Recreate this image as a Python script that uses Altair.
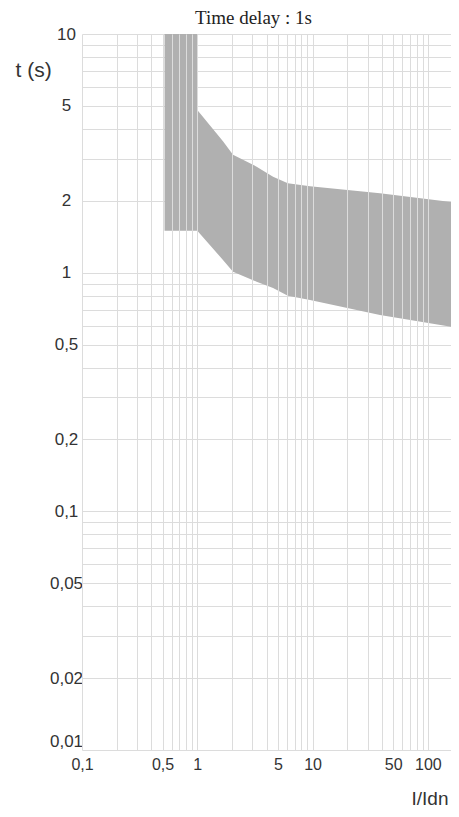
import altair as alt
import pandas as pd

# Tripping band
current_ratio = [0.52, 1.0, 1.0, 1.67, 2.04, 3.27, 4.54, 6.1, 9.5, 38.4, 186]
t_upper = [10, 10, 4.8, 3.55, 3.12, 2.78, 2.52, 2.37, 2.3, 2.15, 1.96]
t_lower = [1.5, 1.5, 1.5, 1.13, 1.01, 0.917, 0.863, 0.80, 0.768, 0.665, 0.586]

# Axis grid / labels
x_grid = [0.1, 0.2, 0.3, 0.4, 0.5, 0.6, 0.7, 0.8, 0.9,
          1, 2, 3, 4, 5, 6, 7, 8, 9,
          10, 20, 30, 40, 50, 60, 70, 80, 90, 100]
x_labels = [0.1, 0.5, 1, 5, 10, 50, 100]
y_grid = [0.01, 0.02, 0.03, 0.04, 0.05, 0.06, 0.07, 0.08, 0.09,
          0.1, 0.2, 0.3, 0.4, 0.5, 0.6, 0.7, 0.8, 0.9,
          1, 2, 3, 4, 5, 6, 7, 8, 9, 10]
y_labels = [0.01, 0.02, 0.05, 0.1, 0.2, 0.5, 1, 2, 5, 10]

df = pd.DataFrame({"I": current_ratio, "up": t_upper, "lo": t_lower})


def label_expr(vals):
    arr = "[" + ",".join(repr(v) for v in vals) + "]"
    return ("indexof(" + arr + ", datum.value) >= 0 ? "
            "replace(format(datum.value, '~g'), '.', ',') : ''")


FONT = "Liberation Sans"

x_axis = alt.Axis(
    values=x_grid, labelExpr=label_expr(x_labels), labelOverlap=False,
    grid=True, gridColor="#dcdcdc", gridWidth=1, domain=False,
    ticks=False, tickSize=0, labelPadding=6, labelBaseline="top",
    labelFont=FONT, labelFontSize=16, labelColor="#333333", labelFlush=False,
    title="I/Idn", titleFont=FONT, titleFontSize=19, titleFontWeight="normal",
    titleColor="#333333", titleX=366, titleY=54, titleAlign="right",
    titleBaseline="alphabetic", titleAngle=0, zindex=1,
)

y_axis = alt.Axis(
    values=y_grid, labelExpr=label_expr(y_labels), labelOverlap=False,
    grid=True, gridColor="#dcdcdc", gridWidth=1, domain=False,
    ticks=False, tickSize=0, labelPadding=16, labelAlign="center",
    labelBaseline=alt.condition("datum.value == 0.01", alt.value("bottom"), alt.value("middle")),
    labelFont=FONT, labelFontSize=17,
    labelColor="#333333", labelFlush=False,
    title="t (s)", titleFont=FONT, titleFontSize=21, titleFontWeight="normal",
    titleColor="#333333", titleX=-67, titleY=36, titleAlign="left",
    titleBaseline="middle", titleAngle=0, zindex=0,
)

chart = alt.Chart(df).mark_area(color="#b0b0b0", opacity=1, clip=True).encode(
    x=alt.X("I:Q", scale=alt.Scale(type="log", domain=[0.1, 158.6], nice=False), axis=x_axis),
    y=alt.Y("up:Q", scale=alt.Scale(type="log", domain=[0.01, 10], nice=False), axis=y_axis),
    y2="lo:Q",
).properties(
    width=369,
    height=716,
    title=alt.TitleParams(
        text="Time delay : 1s", font="Liberation Serif", fontSize=19,
        fontWeight="normal", color="#222222", anchor="middle", frame="group",
        dx=-13, offset=-18, baseline="alphabetic",
    ),
    padding={"left": 74, "top": 26, "right": 0, "bottom": 59},
    autosize=alt.AutoSizeParams(type="none"),
).configure_view(stroke=None)

chart.save("out.html", embed_options={"renderer": "svg", "actions": False})
